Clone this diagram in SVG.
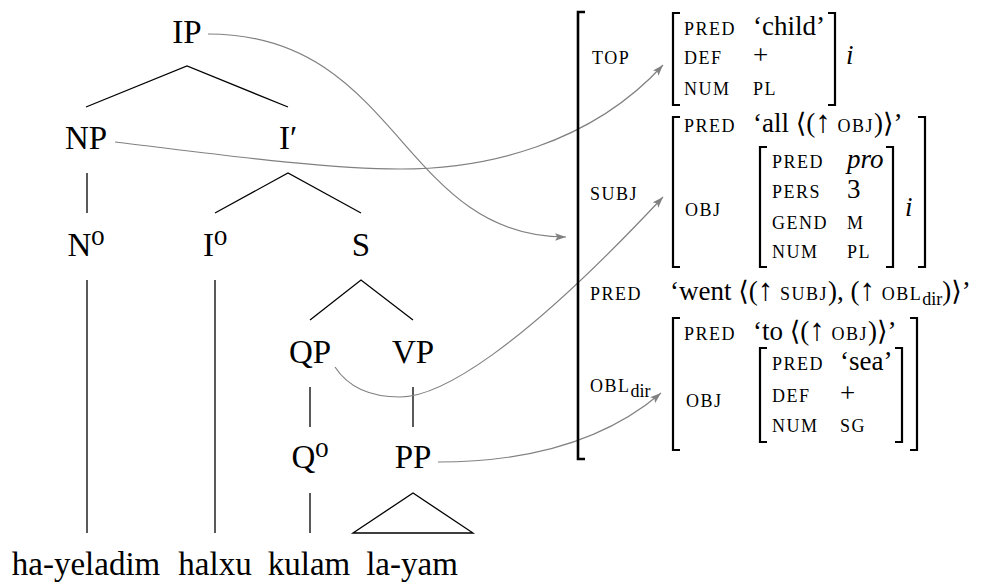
<svg xmlns="http://www.w3.org/2000/svg" width="985" height="582" viewBox="0 0 985 582" font-family="'Liberation Serif', 'Times New Roman', Tinos, 'DejaVu Serif', serif">
<style>
text, tspan { font-family: 'Liberation Serif', 'Times New Roman', Tinos, 'DejaVu Serif', serif; fill: #000; }
.t { font-size: 33px; text-anchor: middle; }
.v { font-size: 27px; }
.sc { font-size: 18px; letter-spacing: 1.5px; }
.it { font-style: italic; }
.sub { font-size: 18px; }
.up { font-size: 31px; }
.br { fill: none; stroke: #000; stroke-width: 2.2; }
.ob { fill: none; stroke: #000; stroke-width: 2.6; }
.edge { stroke: #000; stroke-width: 1.3; fill: none; }
.arr { stroke: #808080; stroke-width: 1.2; fill: none; marker-end: url(#ah); }
</style>
<defs>
<marker id="ah" markerUnits="userSpaceOnUse" viewBox="0 0 10 7" refX="10" refY="3.5" markerWidth="11" markerHeight="8" orient="auto">
<path d="M0,0 L10,3.5 L0,7 L2.2,3.5 z" fill="#808080"/>
</marker>
</defs>

<g id="tree-nodes">
<g id="n-IP"><text class="t" x="187" y="43">IP</text></g>
<g id="n-NP"><text class="t" x="86" y="149">NP</text></g>
<g id="n-Ibar"><text class="t" x="288" y="149">I′</text></g>
<g id="n-N0"><text class="t" x="86" y="256">N⁰</text></g>
<g id="n-I0"><text class="t" x="215" y="256">I⁰</text></g>
<g id="n-S"><text class="t" x="361" y="256">S</text></g>
<g id="n-QP"><text class="t" x="310" y="363">QP</text></g>
<g id="n-VP"><text class="t" x="413" y="363">VP</text></g>
<g id="n-Q0"><text class="t" x="310" y="468">Q⁰</text></g>
<g id="n-PP"><text class="t" x="413" y="468">PP</text></g>
<g id="w-hayeladim"><text class="t" x="86" y="575">ha-yeladim</text></g>
<g id="w-halxu"><text class="t" x="215" y="575">halxu</text></g>
<g id="w-kulam"><text class="t" x="309" y="575">kulam</text></g>
<g id="w-layam"><text class="t" x="412" y="575">la-yam</text></g>
</g>

<g id="connectors">
<path class="edge" d="M86,107 L187,66 L288,107"/>
<path class="edge" d="M87,173 V213"/>
<path class="edge" d="M215,213 L288,173 L361,213"/>
<path class="edge" d="M87,280 V533"/>
<path class="edge" d="M215,280 V533"/>
<path class="edge" d="M310,320 L361,280 L413,320"/>
<path class="edge" d="M310,387 V427"/>
<path class="edge" d="M413,387 V427"/>
<path class="edge" d="M310,493 V533"/>
<path class="edge" d="M353,533 L413,493 L473,533 Z"/>
<path class="arr" d="M208,34 C400,34 400,237 566,237"/>
<path class="arr" d="M115,142 C200,152 320,169 400,169 C485,169 590,145 663,65"/>
<path class="arr" d="M335,367 C350,390 375,397 400,397 C440,397 520,350 663,197"/>
<path class="arr" d="M438,462 C520,462 600,445 661,393"/>
</g>

<g id="fstructure">
<path class="ob" d="M585,12 H578 V459 H585"/>

<g id="f-top">
<text class="sc" x="592" y="64">TOP</text>
<path class="br" d="M680,13 H673 V105 H680"/>
<path class="br" d="M828,13 H835 V105 H828"/>
<text class="sc" x="684" y="35">PRED</text><text class="v" x="753" y="35">‘child’</text>
<text class="sc" x="684" y="64">DEF</text><text class="v" x="753" y="64">+</text>
<text class="sc" x="684" y="95">NUM</text><text class="sc" x="753" y="95">PL</text>
<text class="v it" x="846" y="64">i</text>
</g>

<g id="f-subj">
<text class="sc" x="590" y="200">SUBJ</text>
<path class="br" d="M680,117 H673 V267 H680"/>
<path class="br" d="M918,117 H925 V267 H918"/>
<text class="sc" x="684" y="132">PRED</text>
<text class="v" x="753" y="132">‘all ⟨(<tspan class="up">↑</tspan> <tspan class="sc">OBJ</tspan>)⟩’</text>
<text class="sc" x="685" y="216">OBJ</text>
<path class="br" d="M767,147 H760 V267 H767"/>
<path class="br" d="M886,147 H893 V267 H886"/>
<text class="sc" x="772" y="168">PRED</text><text class="v it" x="847" y="168">pro</text>
<text class="sc" x="772" y="198">PERS</text><text class="v" x="847" y="198">3</text>
<text class="sc" x="772" y="229">GEND</text><text class="sc" x="847" y="229">M</text>
<text class="sc" x="772" y="258">NUM</text><text class="sc" x="847" y="258">PL</text>
<text class="v it" x="905" y="216">i</text>
</g>

<g id="f-pred">
<text class="sc" x="590" y="300">PRED</text>
<text class="v" x="670" y="300">‘went ⟨(<tspan class="up">↑</tspan> <tspan class="sc">SUBJ</tspan>), (<tspan class="up">↑</tspan> <tspan class="sc">OBL</tspan><tspan class="sub" dy="5">dir</tspan><tspan dy="-5">)⟩’</tspan></text>
</g>

<g id="f-obl">
<text class="sc" x="590" y="392">OBL<tspan class="sub" dy="5" letter-spacing="0">dir</tspan></text>
<path class="br" d="M680,318 H673 V450 H680"/>
<path class="br" d="M910,318 H917 V450 H910"/>
<text class="sc" x="684" y="340">PRED</text>
<text class="v" x="753" y="340">‘to ⟨(<tspan class="up">↑</tspan> <tspan class="sc">OBJ</tspan>)⟩’</text>
<text class="sc" x="686" y="407">OBJ</text>
<path class="br" d="M767,348 H760 V442 H767"/>
<path class="br" d="M895,348 H902 V442 H895"/>
<text class="sc" x="772" y="370">PRED</text><text class="v" x="840" y="370">‘sea’</text>
<text class="sc" x="772" y="402">DEF</text><text class="v" x="840" y="402">+</text>
<text class="sc" x="772" y="432">NUM</text><text class="sc" x="840" y="432">SG</text>
</g>
</g>
</svg>
